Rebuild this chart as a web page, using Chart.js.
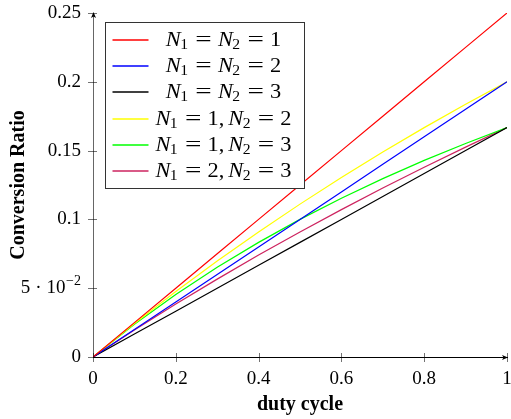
<!DOCTYPE html>
<html><head><meta charset="utf-8">
<script src="https://cdn.jsdelivr.net/npm/chart.js@4.4.0/dist/chart.umd.min.js"></script>
<style>html,body{margin:0;padding:0;background:#fff;}#wrap{width:511px;height:419px;position:relative;}</style>
</head><body><div id="wrap"><canvas id="c" width="511" height="419"></canvas></div>
<script>
// ---- data ----
const dutyCycle = [0, 0.1, 0.2, 0.3, 0.4, 0.5, 0.6, 0.7, 0.8, 0.9, 1.0];
const seriesLabels = ['N_1 = N_2 = 1', 'N_1 = N_2 = 2', 'N_1 = N_2 = 3', 'N_1 = 1, N_2 = 2', 'N_1 = 1, N_2 = 3', 'N_1 = 2, N_2 = 3'];
const ratioN11 = [0, 0.025, 0.050, 0.075, 0.100, 0.125, 0.150, 0.175, 0.200, 0.225, 0.250];
const ratioN22 = [0, 0.020, 0.040, 0.060, 0.080, 0.100, 0.120, 0.140, 0.160, 0.180, 0.200];
const ratioN33 = [0, 0.0167, 0.0333, 0.050, 0.0667, 0.0833, 0.100, 0.1167, 0.1333, 0.150, 0.1667];
const ratioN12 = [0, 0.0244, 0.0476, 0.0698, 0.0909, 0.1111, 0.1304, 0.1489, 0.1667, 0.1837, 0.200];
const ratioN13 = [0, 0.0238, 0.0455, 0.0652, 0.0833, 0.100, 0.1154, 0.1296, 0.1429, 0.1552, 0.1667];
const ratioN23 = [0, 0.0196, 0.0385, 0.0566, 0.0741, 0.0909, 0.1071, 0.1228, 0.1379, 0.1525, 0.1667];
const xTickValues = [0, 0.2, 0.4, 0.6, 0.8, 1];
const xTickLabels = ['0', '0.2', '0.4', '0.6', '0.8', '1'];
const yTickValues = [0, 0.05, 0.1, 0.15, 0.2, 0.25];
const yTickLabels = ['0', '5 \u00b7 10^\u22122', '0.1', '0.15', '0.2', '0.25'];
const xTitle = 'duty cycle';
const yTitle = 'Conversion Ratio';
const seriesColors = ['#ff0000', '#0000ff', '#000000', '#ffff00', '#00ff00', 'rgb(205,35,95)'];

const allSeries = [ratioN11, ratioN22, ratioN33, ratioN12, ratioN13, ratioN23];
const SERIF = '"Liberation Serif", "Times New Roman", serif';
const TICKFS = 19;

const datasets = allSeries.map((vals, i) => ({
  label: seriesLabels[i],
  data: vals.map((v, j) => ({x: dutyCycle[j], y: v})),
  borderColor: seriesColors[i],
  backgroundColor: seriesColors[i],
  borderWidth: 1.2,
  pointRadius: 0,
  tension: 0,
  fill: false
}));

// draw math-like legend text: N italic, _d subscript, wide '='
function mathTokens(s) {
  const toks = [];
  for (let i = 0; i < s.length; i++) {
    const c = s[i];
    if (c === ' ') continue;
    if (c === '_') { toks.push({t: s[i + 1], k: 'sub'}); i++; continue; }
    if (c === 'N') { toks.push({t: c, k: 'it'}); continue; }
    if (c === '=') { toks.push({t: c, k: 'eq'}); continue; }
    if (c === ',') { toks.push({t: c, k: 'comma'}); continue; }
    toks.push({t: c, k: 'rm'});
  }
  return toks;
}
const FS = 20, SUBFS = 14, EQGAP = 5.5, EQSCALE = 1.3, STRETCH = 1.12;
function tokFont(k) {
  if (k === 'it') return 'italic ' + FS + 'px ' + SERIF;
  if (k === 'sub') return SUBFS + 'px ' + SERIF;
  return FS + 'px ' + SERIF;
}
function tokWidth(ctx, tk) {
  ctx.font = tokFont(tk.k);
  const w = ctx.measureText(tk.t).width;
  if (tk.k === 'eq') return w * EQSCALE + 2 * EQGAP;
  if (tk.k === 'comma') return w + 3.5;
  if (tk.k === 'sub') return w + 0.5;
  return w;
}
function drawMath(ctx, s, cx, y) {
  const toks = mathTokens(s);
  let total = 0;
  toks.forEach(tk => total += tokWidth(ctx, tk));
  ctx.save();
  ctx.translate(cx, y);
  ctx.scale(STRETCH, 1);
  let x = -total / 2;
  ctx.textBaseline = 'middle';
  ctx.textAlign = 'left';
  ctx.fillStyle = '#000';
  toks.forEach(tk => {
    ctx.font = tokFont(tk.k);
    if (tk.k === 'eq') {
      ctx.save();
      ctx.translate(x + EQGAP, 0);
      ctx.scale(EQSCALE, 1);
      ctx.fillText(tk.t, 0, 0);
      ctx.restore();
    } else if (tk.k === 'sub') {
      ctx.fillText(tk.t, x - 0.5, 5);
    } else {
      ctx.fillText(tk.t, x, 0);
    }
    x += tokWidth(ctx, tk);
  });
  ctx.restore();
}

// y tick label with optional superscript ("base^sup"), right-aligned at rx
function drawTickLabel(ctx, label, rx, y) {
  const parts = label.split('^');
  ctx.save();
  ctx.textBaseline = 'middle';
  ctx.textAlign = 'right';
  ctx.fillStyle = '#000';
  let x = rx;
  if (parts.length > 1) {
    ctx.font = '14px ' + SERIF;
    ctx.fillText(parts[1], x, y - 7);
    x -= ctx.measureText(parts[1]).width + 0.5;
  }
  ctx.font = TICKFS + 'px ' + SERIF;
  // widen spacing around the centred dot
  const segs = parts[0].split(' \u00b7 ');
  for (let i = segs.length - 1; i >= 0; i--) {
    ctx.fillText(segs[i], x, y);
    x -= ctx.measureText(segs[i]).width;
    if (i > 0) {
      x -= 5;
      ctx.fillText('\u00b7', x, y);
      x -= ctx.measureText('\u00b7').width + 5;
    }
  }
  ctx.restore();
}

const decorPlugin = {
  id: 'decor',
  afterDraw(chart) {
    const ctx = chart.ctx;
    const xs = chart.scales.x, ys = chart.scales.y;
    const ca = chart.chartArea;
    ctx.save();
    // y tick labels (through the y scale)
    ys.ticks.forEach(t => {
      const i = yTickValues.indexOf(t.value);
      if (i >= 0) drawTickLabel(ctx, yTickLabels[i], ca.left - 12, ys.getPixelForValue(t.value));
    });
    // crossing tick marks
    ctx.lineWidth = 1;
    ctx.strokeStyle = 'rgba(0,0,0,0.55)';
    ys.ticks.forEach(t => {
      const py = Math.round(ys.getPixelForValue(t.value)) + 0.5;
      ctx.beginPath(); ctx.moveTo(ca.left - 5, py); ctx.lineTo(ca.left + 4, py); ctx.stroke();
    });
    xs.ticks.forEach(t => {
      const px = Math.round(xs.getPixelForValue(t.value)) + 0.5;
      ctx.beginPath(); ctx.moveTo(px, ca.bottom - 4); ctx.lineTo(px, ca.bottom + 5); ctx.stroke();
    });
    // arrowheads
    ctx.fillStyle = '#000';
    const ax = ca.left + 0.5, ay = ca.top - 1;
    ctx.beginPath(); ctx.moveTo(ax, ay); ctx.lineTo(ax - 2.5, ay + 6); ctx.lineTo(ax, ay + 4.5); ctx.lineTo(ax + 2.5, ay + 6); ctx.closePath(); ctx.fill();
    const bx = ca.right + 1, by = ca.bottom + 0.5;
    ctx.beginPath(); ctx.moveTo(bx, by); ctx.lineTo(bx - 6, by - 2.5); ctx.lineTo(bx - 4.5, by); ctx.lineTo(bx - 6, by + 2.5); ctx.closePath(); ctx.fill();

    // legend box
    const lx = ca.left + 12.5, ly = ca.top + 9.5, lw = 199, lh = 166;
    ctx.fillStyle = '#fff';
    ctx.fillRect(lx, ly, lw, lh);
    ctx.strokeStyle = '#333';
    ctx.lineWidth = 1;
    ctx.strokeRect(lx, ly, lw, lh);
    const rowH = 26.2, firstY = ly + 17.5;
    chart.data.datasets.forEach((ds, i) => {
      const ry = Math.round(firstY + i * rowH);
      ctx.strokeStyle = ds.borderColor;
      ctx.lineWidth = 1.4;
      ctx.beginPath(); ctx.moveTo(lx + 7, ry); ctx.lineTo(lx + 43, ry); ctx.stroke();
      drawMath(ctx, ds.label, lx + 118, ry + 0.5);
    });
    ctx.restore();
  }
};

function noPad(s) { s.paddingTop = 0; s.paddingBottom = 0; s.paddingLeft = 0; s.paddingRight = 0; }

new Chart(document.getElementById('c'), {
  type: 'line',
  data: {datasets},
  plugins: [decorPlugin],
  options: {
    responsive: false,
    animation: false,
    devicePixelRatio: 1,
    layout: {padding: {top: 13, right: 4, left: 0, bottom: 0}},
    plugins: {legend: {display: false}, tooltip: {enabled: false}},
    scales: {
      x: {
        type: 'linear', min: 0, max: 1,
        afterBuildTicks: s => { s.ticks = xTickValues.map(v => ({value: v})); },
        afterFit: s => { s.height = 62; noPad(s); },
        grid: {display: false, drawTicks: false, tickLength: 0},
        border: {display: true, color: '#000', width: 1},
        ticks: {
          padding: 11, maxRotation: 0, color: '#000',
          font: {family: SERIF, size: TICKFS},
          callback: (v) => { const i = xTickValues.indexOf(v); return i >= 0 ? xTickLabels[i] : ''; }
        },
        title: {display: true, text: xTitle, color: '#000', font: {family: SERIF, size: 20, weight: 'bold'}, padding: {top: 0, bottom: 2}}
      },
      y: {
        type: 'linear', min: 0, max: 0.25,
        afterBuildTicks: s => { s.ticks = yTickValues.map(v => ({value: v})); },
        afterFit: s => { s.width = 93; noPad(s); },
        grid: {display: false, drawTicks: false, tickLength: 0},
        border: {display: true, color: 'rgba(0,0,0,0.6)', width: 1},
        ticks: {display: false},
        title: {display: true, text: yTitle, color: '#000', font: {family: SERIF, size: 20, weight: 'bold'}, padding: {top: 7, bottom: 0}}
      }
    }
  }
});
</script>
</body></html>
